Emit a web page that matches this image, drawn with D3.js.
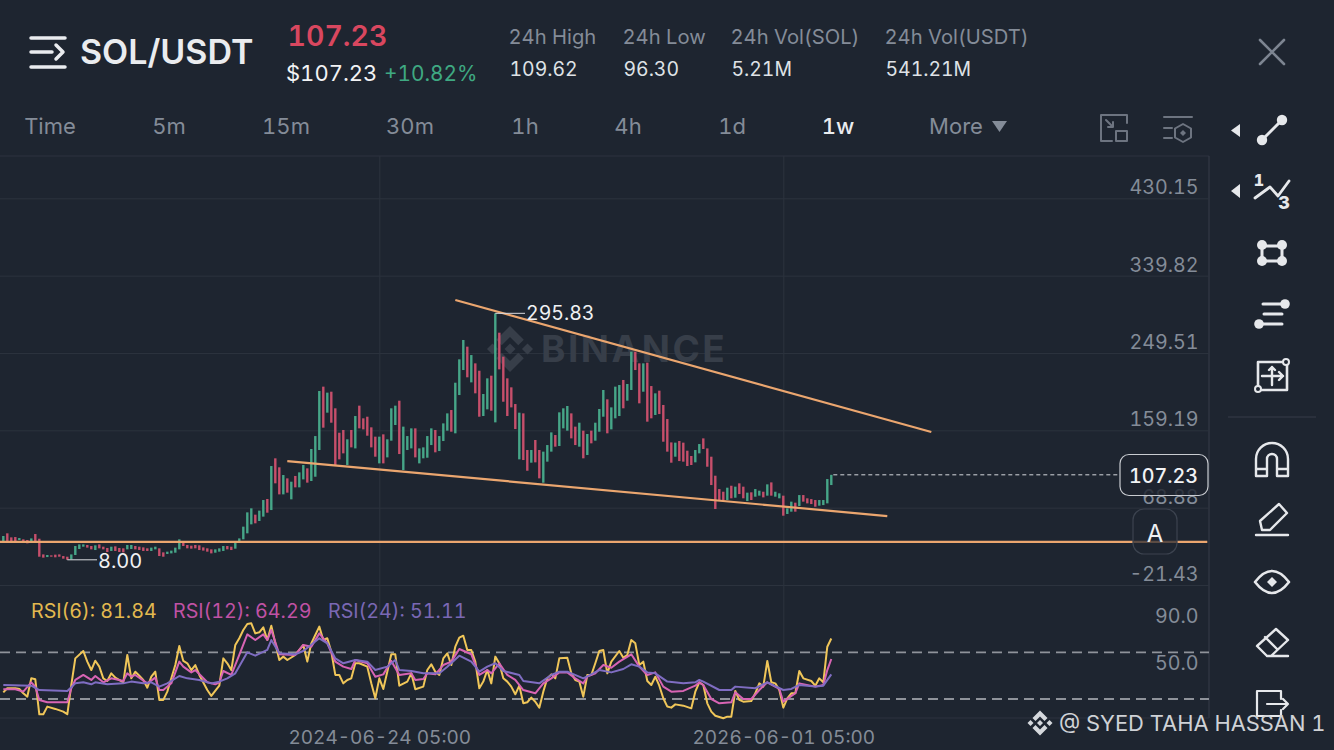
<!DOCTYPE html>
<html>
<head>
<meta charset="utf-8">
<script src="https://cdn.jsdelivr.net/npm/d3@7"></script>
<style>
  body { margin: 0; background: #1e2530; overflow: hidden; }
  text { font-family: Inter, "Open Sans", sans-serif; font-variant-numeric: tabular-nums; }
  .axis .domain { display: none; }
</style>
</head>
<body>
<div id="chart-area"></div>
<script>
var opens = [
  29.9,38.9,34.2,34.6,31.1,31.9,31.1,29.2,38.1,32.6,
  14.3,11.2,13.2,14.0,14.3,12.4,11.6,8.5,13.6,20.6,
  23.3,25.3,24.1,19.4,26.0,23.3,21.8,18.3,23.7,21.8,
  21.4,20.2,20.6,24.1,23.3,22.5,21.4,18.3,20.2,21.4,
  16.7,14.8,15.5,16.3,20.2,29.2,25.3,24.5,25.3,24.9,
  22.5,21.4,20.2,16.3,17.5,18.3,24.1,23.3,21.0,28.8,
  31.9,38.9,49.4,60.7,53.3,58.4,79.0,66.1,126.5,116.0,
  84.4,103.1,78.6,105.9,92.6,101.9,114.8,100.0,105.0,136.2,
  210.2,179.8,204.3,184.9,156.4,159.6,118.7,159.6,138.1,188.0,
  173.2,175.1,162.7,151.8,120.6,154.5,127.6,147.1,165.4,193.8,
  112.8,136.2,138.1,161.5,120.6,126.5,127.2,142.0,159.6,135.0,
  146.7,158.8,182.9,155.7,200.4,229.6,256.9,215.2,237.4,228.8,
  175.9,183.7,223.0,168.5,273.2,245.2,219.9,209.4,189.9,125.3,
  179.0,136.2,121.4,147.9,136.2,98.0,122.6,134.3,153.7,140.9,
  161.5,158.8,179.0,163.5,140.1,158.8,130.4,158.8,147.1,157.6,
  175.1,195.4,160.3,173.2,175.9,218.0,193.8,206.3,251.0,237.4,
  204.3,238.2,210.9,177.1,205.5,188.8,172.4,145.1,128.4,146.7,
  144.8,135.4,129.2,121.8,132.3,149.8,138.1,128.4,106.2,90.6,
  87.5,77.8,94.5,80.5,97.3,93.4,76.6,86.8,81.7,82.9,
  87.5,82.9,98.4,81.7,79.8,82.9,61.5,64.2,74.7,70.8,
  83.6,79.8,78.9,77.8,71.2,71.9,73.9,95.3
];
var closes = [
  35.8,29.9,29.9,29.9,33.4,28.0,27.2,33.0,29.9,11.6,
  10.5,13.6,11.6,10.9,11.6,9.3,8.0,14.3,24.1,26.0,
  26.0,22.2,20.2,24.9,21.4,20.2,17.1,23.3,18.3,17.1,
  16.7,25.3,25.3,20.2,19.4,18.3,18.3,22.2,23.3,12.4,
  11.6,17.5,18.7,22.2,31.9,24.1,21.4,21.0,21.4,19.4,
  18.7,17.5,15.5,20.2,21.4,24.1,20.2,19.4,28.4,33.0,
  46.7,63.4,68.1,50.6,65.4,77.8,63.0,117.5,97.3,84.4,
  107.0,86.4,99.2,92.6,110.1,118.7,98.1,137.4,152.5,205.1,
  162.3,203.2,168.1,117.5,125.3,132.3,148.7,139.3,175.9,161.5,
  160.3,152.9,139.3,128.4,151.8,120.6,148.7,184.9,188.0,131.5,
  163.5,152.5,161.5,127.6,138.1,139.3,152.5,161.5,133.5,152.5,
  167.3,179.0,157.6,214.8,242.1,264.7,221.1,247.1,202.4,175.1,
  201.6,219.9,182.1,295.83,230.4,192.6,175.9,186.0,160.7,179.8,
  124.5,112.0,136.2,121.8,103.1,134.3,142.0,156.8,140.1,180.2,
  184.9,187.6,149.8,142.0,168.1,126.5,154.9,144.0,168.1,184.1,
  206.3,155.7,186.0,210.2,212.1,184.9,213.3,251.0,229.6,190.7,
  237.4,169.3,173.2,202.4,178.2,145.9,134.3,121.4,144.8,123.3,
  122.6,117.5,118.7,136.2,143.2,137.4,116.7,95.3,67.3,77.8,
  77.0,92.2,79.8,93.4,84.8,79.8,86.4,77.8,90.6,88.7,
  80.9,96.1,82.9,87.5,85.6,59.5,68.1,75.9,64.2,83.6,
  75.9,73.9,73.1,70.0,77.8,77.8,102.3,107.23
];

// [candle index, rsi]
var rsi6 = [[0,35.7],[1,39.2],[3,39.2],[4,38.6],[5,34.9],[6,32],[7,47.7],[8,46.9],[9,16.9],[10,16.9],[11,23.5],[13,21.5],[15,19.2],[16,16.9],[17,42],[18,64.8],[20,71.1],[21,62],[22,54.8],[23,62.8],[24,57.7],[25,47.7],[26,45.4],[27,52],[28,48.3],[30,44.3],[31,67.7],[32,47.7],[33,53.4],[34,50],[35,46.3],[36,39.7],[37,49.1],[38,53.4],[39,29.2],[40,29.2],[41,36.3],[42,47.7],[43,59.1],[44,75.4],[45,62.6],[46,60.6],[47,54.8],[48,59.1],[49,50.6],[51,37.7],[52,32.6],[54,41.4],[55,64.8],[56,60.6],[57,54.8],[58,76.3],[59,82],[60,89.1],[61,94.2],[62,94.8],[63,86.2],[64,87.1],[65,91.4],[66,80.5],[67,92.8],[68,77.7],[69,63.4],[70,66.3],[71,63.4],[73,67.7],[74,72],[75,76.3],[76,62],[77,77.7],[78,84.8],[79,92],[80,80.5],[81,82],[82,70.5],[83,50.6],[84,50.6],[85,43.4],[86,46.3],[87,47.7],[88,60.6],[89,60.6],[91,57.7],[92,43.4],[93,30.6],[94,47.7],[95,38.6],[96,53.4],[97,68.3],[98,68.3],[99,41.4],[101,44.9],[102,52],[103,38.3],[105,40.6],[106,54.8],[107,59.7],[108,53.4],[109,50.6],[110,64.8],[111,69.1],[112,59.1],[113,74.8],[114,82.5],[115,84.2],[116,72],[117,72],[118,62],[119,39.2],[120,44.9],[121,54.8],[122,43.4],[123,66.3],[124,60.6],[125,47.7],[126,44.9],[127,40.6],[128,34],[129,41.4],[130,26.3],[131,27.2],[132,31.2],[133,27.7],[134,22.6],[135,36.3],[136,47.7],[137,51.1],[138,47.7],[139,64.8],[141,65.4],[142,52],[143,46.3],[144,44.9],[145,32],[146,50.6],[147,50.6],[148,60.6],[149,71.1],[150,72],[151,52],[152,62],[154,71.1],[155,65.4],[156,67.7],[157,80.5],[158,77.7],[159,59.1],[160,62],[161,45.4],[162,42],[163,49.1],[164,41.4],[165,30.6],[166,23.5],[167,22.6],[168,25.4],[170,24.3],[172,22],[173,36.3],[174,44.3],[175,42],[176,26.3],[177,19.2],[178,15.7],[180,13.5],[181,14.9],[182,14.9],[183,36.9],[184,29.2],[185,27.7],[187,28.3],[188,34.9],[189,43.4],[190,40.6],[191,62.6],[192,44.3],[193,43.4],[194,37.7],[195,22.6],[196,30.6],[197,34.9],[198,34.9],[199,54],[200,47.7],[202,45.4],[203,41.4],[204,47.7],[205,44.3],[206,74.8],[207,81.84]];
var rsi12 = [[0,38.3],[3,38.3],[5,36.3],[7,44.3],[8,40.6],[9,29.2],[11,27.2],[16,27.2],[17,39.2],[18,46.3],[20,50.6],[22,46.3],[23,49.7],[25,44.3],[27,47.7],[30,45.4],[31,52],[32,49.1],[33,50.6],[36,43.4],[38,48.3],[39,37.7],[40,37.7],[42,43.4],[44,62],[45,57.7],[47,52.8],[48,54.8],[51,44.3],[53,42.6],[54,44.3],[55,54],[57,50.6],[59,67.7],[61,85.4],[63,80.5],[65,85.4],[66,80.5],[67,89.1],[69,68.3],[73,67.7],[75,76.3],[77,74.8],[79,86.2],[81,77.7],[83,62],[85,57.7],[87,55.7],[88,63.4],[91,60.6],[93,49.1],[95,51.1],[97,62.6],[99,50.6],[102,52],[103,46.3],[105,47.1],[106,52],[108,51.1],[110,59.1],[112,62],[114,72.8],[117,68.3],[119,50.6],[121,54.8],[122,52],[124,60.6],[126,50.6],[128,46.3],[130,37.7],[133,34.9],[135,43.4],[137,47.7],[139,52.8],[141,52.8],[143,47.7],[145,43.4],[146,49.1],[148,52],[150,59.1],[152,56.8],[154,62],[157,68.3],[159,57.7],[161,50.6],[163,52.8],[165,40.6],[167,36.3],[170,36.9],[173,41.4],[174,44.3],[175,42],[177,30],[179,26.3],[182,27.2],[183,35.7],[185,30],[187,30],[189,37.7],[191,44.3],[194,38.6],[195,27.7],[198,34.9],[199,43.4],[203,40.6],[205,42],[206,54.8],[207,64.29]];
var rsi24 = [[0,42],[7,41.4],[9,37.7],[16,36.9],[18,43.4],[20,44.3],[22,42.6],[23,44.3],[26,42.6],[30,43.4],[32,44.9],[35,43.4],[37,44.3],[39,40.6],[41,43.4],[44,49.7],[46,47.7],[49,46.3],[52,43.4],[54,44.9],[56,47.7],[58,52],[61,70],[63,67.1],[66,72],[67,80.5],[69,69.1],[73,68.3],[75,71.1],[79,82],[81,77.7],[83,64.8],[85,60.6],[88,63.4],[91,62],[93,54.8],[96,57.7],[98,63.4],[99,54.8],[102,54],[105,52],[106,52],[109,52],[111,57.7],[114,67.1],[117,62],[119,53.4],[121,57.7],[123,60.6],[125,54],[129,50.6],[130,45.4],[134,43.4],[137,50.6],[139,53.4],[141,53.4],[145,47.7],[149,54.8],[152,52.8],[155,55.7],[157,59.7],[159,57.7],[161,52.8],[163,52],[166,44.9],[170,43.4],[173,44.3],[174,46.3],[175,44.9],[179,37.7],[182,37.7],[183,40.6],[188,39.2],[191,44.3],[195,37.7],[197,38.6],[199,42],[203,40.6],[205,41.4],[207,51.11]];

var priceTicks = [430.15, 339.82, 249.51, 159.19, 68.88, -21.43];
var rsiTicks = [90, 50];
var rsiBands = [70, 30];
var dateTicks = [94, 195];
var dateLabels = ["2024-06-24 05:00", "2026-06-01 05:00"];

// trend lines as [candle index, price]
var trendLines = [
  [[113, 311.4], [232, 157.2]],
  [[71, 123.3], [221, 59.1]],
  [[-1, 29], [301, 29]]
];
var lastPrice = 107.23;
var highPoint = [123, 295.83];
var lowPoint = [16, 8.0];

var tabs = ["Time", "5m", "15m", "30m", "1h", "4h", "1d", "1w", "More"];
var tabX = [50, 169, 286, 410, 525, 628, 732, 838, 956];
var stats = [["24h High", "109.62"], ["24h Low", "96.30"], ["24h Vol(SOL)", "5.21M"], ["24h Vol(USDT)", "541.21M"]];
var statX = [508.5, 622.5, 730.5, 884.5];

var width = 1334, height = 750;
var plotRight = 1209;
var bg = "#1e2530", grey = "#848c98", grid = "#2c333e", white = "#eaecef";
var green = "#46a688", red = "#c64f6b", orange = "#eba66f";

var svg = d3.select("#chart-area").append("svg")
    .attr("width", width)
    .attr("height", height)
    .style("display", "block");

svg.append("rect").attr("width", width).attr("height", height).attr("fill", bg);

var x = d3.scaleLinear().domain([0, 207]).range([3.3, 831.3]);
var y = d3.scaleLinear().domain([430.15, -21.43]).range([198.3, 585]);
var yRsi = d3.scaleLinear().domain([70, 30]).range([652.3, 699]);

function txt(str, tx, ty, size, color, anchor, weight) {
    return svg.append("text").attr("x", tx).attr("y", ty)
        .attr("font-size", size).attr("fill", color)
        .attr("text-anchor", anchor || "start")
        .attr("font-weight", weight || 400)
        .text(str);
}

// panel frame
svg.append("line").attr("x1", 0).attr("x2", plotRight).attr("y1", 156).attr("y2", 156).attr("stroke", grid);
svg.append("line").attr("x1", plotRight).attr("x2", plotRight).attr("y1", 156).attr("y2", 718).attr("stroke", "#363d49");
svg.append("line").attr("x1", 0).attr("x2", plotRight).attr("y1", 718).attr("y2", 718).attr("stroke", grid);

// price axis + grid
var priceAxis = svg.append("g").attr("class", "axis")
    .attr("transform", "translate(" + plotRight + ",0)")
    .call(d3.axisLeft(y).tickValues(priceTicks).tickSize(plotRight).tickFormat(d3.format(".2f")));
priceAxis.selectAll("line").attr("stroke", grid);
priceAxis.selectAll("text")
    .attr("x", -10.5).attr("dy", "-4.5px")
    .attr("font-size", 19.7).attr("fill", grey)
    .style("font-family", "Inter, sans-serif")
    .text(function(d) { return d.toFixed(2); });

// date axis + vertical grid
var dateAxis = svg.append("g").attr("class", "axis")
    .attr("transform", "translate(0,718)")
    .call(d3.axisBottom(x).tickValues(dateTicks).tickSize(-562)
        .tickFormat(function(d, i) { return dateLabels[i]; }));
dateAxis.selectAll("line").attr("stroke", grid);
dateAxis.selectAll("text")
    .attr("y", 26).attr("dy", 0)
    .attr("font-size", 19).attr("fill", grey)
    .style("font-family", "Inter, sans-serif");

// rsi axis
var rsiAxis = svg.append("g").attr("class", "axis")
    .attr("transform", "translate(" + plotRight + ",0)")
    .call(d3.axisLeft(yRsi).tickValues(rsiTicks).tickSize(0).tickFormat(d3.format(".1f")));
rsiAxis.selectAll("text")
    .attr("x", -10.5).attr("dy", "-6px")
    .attr("font-size", 19.7).attr("fill", grey)
    .style("font-family", "Inter, sans-serif");

svg.selectAll(".band").data(rsiBands).enter().append("line")
    .attr("class", "band")
    .attr("x1", 0).attr("x2", plotRight)
    .attr("y1", yRsi).attr("y2", yRsi)
    .attr("stroke", "#8f939a").attr("stroke-width", 1.8)
    .attr("stroke-dasharray", "10,6");

// binance logo, used for the watermark and the footer
function logo(cx, cy, s, color) {
    var g = svg.append("g").attr("transform", "translate(" + cx + "," + cy + ") scale(" + s + ")").attr("fill", color);
    g.append("path").attr("d", "M0,-10 L6,-4 L3.6,-1.6 L0,-5.2 L-3.6,-1.6 L-6,-4 Z");
    g.append("path").attr("d", "M0,10 L6,4 L3.6,1.6 L0,5.2 L-3.6,1.6 L-6,4 Z");
    g.append("path").attr("d", "M0,-2.4 L2.4,0 L0,2.4 L-2.4,0 Z");
    g.append("path").attr("d", "M-7.6,-2.4 L-5.2,0 L-7.6,2.4 L-10,0 Z");
    g.append("path").attr("d", "M7.6,-2.4 L10,0 L7.6,2.4 L5.2,0 Z");
}
logo(510, 349, 2.3, "#373e49");
txt("BINANCE", 541, 362, 37, "#373e49", "start", 700).attr("letter-spacing", 2.5);

// candles
svg.selectAll(".candle").data(opens).enter().append("rect")
    .attr("class", "candle")
    .attr("x", function(d, i) { return x(i) - 1.2; })
    .attr("y", function(d, i) { return y(Math.max(d, closes[i])); })
    .attr("width", 2.4)
    .attr("height", function(d, i) { return Math.abs(y(d) - y(closes[i])); })
    .attr("fill", function(d, i) { return closes[i] >= d ? green : red; });

// trend lines
var trendPath = d3.line().x(function(d) { return x(d[0]); }).y(function(d) { return y(d[1]); });
svg.selectAll(".trend").data(trendLines).enter().append("path")
    .attr("class", "trend")
    .attr("d", trendPath)
    .attr("fill", "none")
    .attr("stroke", orange)
    .attr("stroke-width", 2.2);

// last price
svg.append("line")
    .attr("x1", x(207) + 2).attr("x2", 1120)
    .attr("y1", y(lastPrice)).attr("y2", y(lastPrice))
    .attr("stroke", "#d5d8dc").attr("stroke-width", 1)
    .attr("stroke-dasharray", "4,3");
svg.append("rect").attr("x", 1120).attr("y", 454.5).attr("width", 88).attr("height", 41).attr("rx", 9)
    .attr("fill", bg).attr("fill-opacity", 0.82).attr("stroke", "#c9ccd1").attr("stroke-width", 1.2);
txt("107.23", 1198, 483, 19.7, "#f2f3f5", "end", 500);

// A button
svg.append("rect").attr("x", 1133).attr("y", 509).attr("width", 44).attr("height", 45).attr("rx", 11)
    .attr("fill", bg).attr("fill-opacity", 0.7).attr("stroke", "#3c434f").attr("stroke-width", 1.2);
txt("A", 1155, 542, 24, "#eef0f2", "middle");

// high and low labels
svg.append("line").attr("x1", x(highPoint[0])).attr("x2", 525)
    .attr("y1", y(highPoint[1])).attr("y2", y(highPoint[1])).attr("stroke", "#d8dade");
txt(highPoint[1].toFixed(2), 526, 320, 19.5, "#f0f1f3");
svg.append("line").attr("x1", x(lowPoint[0])).attr("x2", 97)
    .attr("y1", y(lowPoint[1])).attr("y2", y(lowPoint[1])).attr("stroke", "#d8dade");
txt(lowPoint[1].toFixed(2), 98, 568, 20, "#f0f1f3");

// rsi lines
var rsiLine = d3.line().x(function(d) { return x(d[0]); }).y(function(d) { return yRsi(d[1]); });
var rsiSeries = [[rsi6, "#f0c659"], [rsi12, "#d864b4"], [rsi24, "#7f6dc2"]];
svg.selectAll(".rsi").data(rsiSeries).enter().append("path")
    .attr("class", "rsi")
    .attr("d", function(d) { return rsiLine(d[0]); })
    .attr("fill", "none")
    .attr("stroke", function(d) { return d[1]; })
    .attr("stroke-width", 2)
    .attr("stroke-linejoin", "round");

txt("RSI(6): 81.84", 31, 618, 19.7, "#e3b94f");
txt("RSI(12): 64.29", 173, 618, 19.7, "#c052a5");
txt("RSI(24): 51.11", 328, 618, 19.7, "#7a68b4");

// header
txt("SOL/USDT", 80, 64, 34, white, "start", 600);
txt("107.23", 287.5, 46, 28.5, "#d9475f", "start", 600);
txt("$107.23", 286, 81, 22, "#f2f3f5");
txt("+10.82%", 384, 81, 20.8, "#3fa982");
stats.forEach(function(s, i) {
    txt(s[0], statX[i], 44, 20.2, grey);
    txt(s[1], statX[i] + 1, 76, 19.4, "#dfe2e6");
});
tabs.forEach(function(t, i) {
    txt(t, tabX[i], 134, 22, t == "1w" ? white : grey, "middle", t == "1w" ? 500 : 400);
});

// icons
function icon(d, color, sw, fill) {
    return svg.append("path").attr("d", d)
        .attr("fill", fill || "none").attr("stroke", fill ? "none" : color)
        .attr("stroke-width", sw || 3).attr("stroke-linecap", "round").attr("stroke-linejoin", "round");
}
function dot(cx, cy, r, color) {
    svg.append("circle").attr("cx", cx).attr("cy", cy).attr("r", r).attr("fill", color);
}
var ic = "#e6e8eb";
icon("M31 38H65M31 67H65M31 52H52M56 45L63 52L56 59", white, 3.5);
icon("M1260 40L1284 64M1284 40L1260 64", "#7d8591", 2.6);
icon("M992 121H1007L999.5 132Z", grey, 0, grey);
// screen icons
icon("M1127 123V115H1101V141H1112M1106 120L1113 127M1113 122V127H1108", "#6d7480", 2);
icon("M1116 131H1127V141H1116Z", "#6d7480", 2);
icon("M1164 117H1192M1164 128H1172M1164 138H1172", "#6d7480", 2);
icon("M1183 124L1191 128.5V137.5L1183 142L1175 137.5V128.5Z", "#6d7480", 2);
icon("M1183 130L1186 133L1183 136L1180 133Z", "#6d7480", 0, "#6d7480");
// side tools
icon("M1240 124V137L1231 130.5Z", ic, 0, ic);
icon("M1240 184V198L1231 191Z", ic, 0, ic);
icon("M1262 140L1282 120", ic, 3);
dot(1262, 140, 5.2, ic); dot(1282, 120, 5.2, ic);
icon("M1255 198L1270 187L1278 196L1289 181", ic, 2.8);
txt("1", 1259, 186, 16, ic, "middle", 800);
txt("3", 1284, 209, 18, ic, "middle", 800);
icon("M1262 246H1282V261H1262Z", ic, 3);
[[1262, 245], [1282, 245], [1262, 261], [1282, 261]].forEach(function(p) { dot(p[0], p[1], 5, ic); });
icon("M1263 304H1283M1264 314H1282M1260 324H1282", ic, 3);
dot(1285, 304, 4.8, ic); dot(1259, 324, 4.8, ic);
icon("M1258 362H1287V390H1258Z", ic, 2.6);
svg.append("circle").attr("cx", 1286).attr("cy", 362).attr("r", 3).attr("fill", bg).attr("stroke", ic).attr("stroke-width", 2);
svg.append("circle").attr("cx", 1258).attr("cy", 389).attr("r", 3).attr("fill", bg).attr("stroke", ic).attr("stroke-width", 2);
icon("M1262 376H1283M1279 372L1283 376L1279 380M1272 367V385M1269 370L1272 367L1275 370", ic, 2.4);
svg.append("line").attr("x1", 1228).attr("x2", 1316).attr("y1", 417).attr("y2", 417).attr("stroke", "#363d49");
icon("M1256 476V459A16 16 0 0 1 1288 459V476H1277V459A5 5 0 0 0 1267 459V476ZM1256 469H1267M1277 469H1288", ic, 2.4);
icon("M1256 535H1288M1262 530L1260 521L1279 504L1287 513L1270 530Z", ic, 2.4);
icon("M1255 582Q1272 560 1289 582Q1272 604 1255 582Z", ic, 2.6);
icon("M1272 577L1277 582L1272 587L1267 582Z", ic, 0, ic);
icon("M1257 646L1276 629L1288 640L1271 656H1267ZM1265 637L1277 649M1267 656H1288", ic, 2.4);
icon("M1281 699V691H1257V716H1281V710M1267 704H1288M1283 699L1288 704L1283 709", ic, 2.2);

// footer watermark
logo(1040, 723, 1.25, "#d5d8dc");
txt("@ SYED TAHA HASSAN 1", 1059, 731, 21.9, "#cfd2d6");
</script>
</body>
</html>
